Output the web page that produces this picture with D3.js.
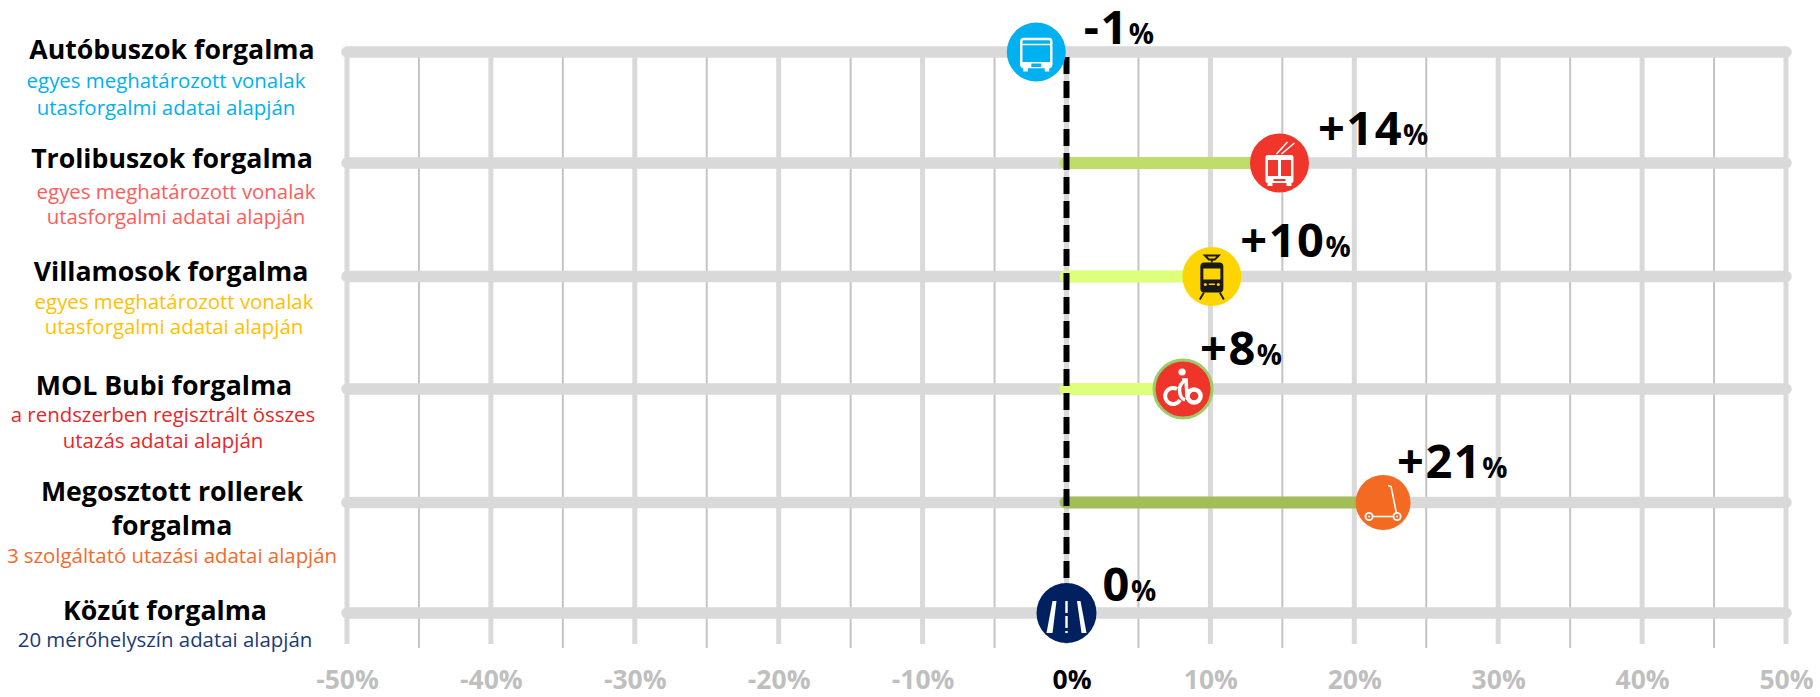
<!DOCTYPE html>
<html>
<head>
<meta charset="utf-8">
<script src="https://cdn.jsdelivr.net/npm/d3@7/dist/d3.min.js"></script>
<style>
  html, body { margin: 0; padding: 0; background: white; }
  svg { display: block; }
  text { font-family: "Open Sans", "Noto Sans", sans-serif; }
</style>
</head>
<body>
<main></main>
<script>
/*** The data ***/

const categories = ['busz', 'troli', 'villamos', 'bubi', 'roller', 'kozut']
const markerValues = [-2.1, 14.8, 10.1, 8.1, 22, 0] // where the icon sits on the axis
const valueLabels = ['-1', '+14', '+10', '+8', '+21', '0']
const ticks = [-50, -40, -30, -20, -10, 0, 10, 20, 30, 40, 50]
const minorTicks = [-45, -35, -25, -15, -5, 5, 15, 25, 35, 45]

const titles = [
    ['Autóbuszok forgalma'],
    ['Trolibuszok forgalma'],
    ['Villamosok forgalma'],
    ['MOL Bubi forgalma'],
    ['Megosztott rollerek', 'forgalma'],
    ['Közút forgalma']
]
const subtitles = [
    ['egyes meghatározott vonalak', 'utasforgalmi adatai alapján'],
    ['egyes meghatározott vonalak', 'utasforgalmi adatai alapján'],
    ['egyes meghatározott vonalak', 'utasforgalmi adatai alapján'],
    ['a rendszerben regisztrált összes', 'utazás adatai alapján'],
    ['3 szolgáltató utazási adatai alapján'],
    ['20 mérőhelyszín adatai alapján']
]

/*** Layout ***/

const svgWidth = 1820
const svgHeight = 697

const gridBottom = 644
const zeroX = 1066.5
const perPercent = 14.39

const rowY = [52, 163, 276.5, 389, 502.5, 613]

const markerColors = ['#00B0F0', '#F0352B', '#FFD500', '#EF3529', '#F56A22', '#002060']
const barColors = [null, '#BEDD6A', '#DDFF7A', '#DDFF7A', '#A3BD58', null]
const markerRadius = [29.5, 29.5, 29.5, 29, 27.5, 30]
const subColors = ['#00B0F0', '#FF5B5B', '#FFC000', '#E8262A', '#F4692B', '#1B3A75']

// label anchors, relative to the marker
const labelDx = [47.5, 38.5, 28.5, 17, 14, 36]
const labelDy = [-8, -18, -20, -24, -25, -12]

const titleCenter = [172, 172, 171, 164, 172, 165]
const subCenter = [166, 176, 174, 163, 172, 165]
const titleBase = [[59], [168], [281], [395], [501, 535], [620]]
const subBase = [[88, 115], [199, 224], [309, 334], [422, 448], [563], [647]]

const titleSize = 26.7
const subSize = 20.4

let svg = d3.select('main')
    .append('svg')
    .attr('width', svgWidth)
    .attr('height', svgHeight)
    .style('background-color', 'white')

/* Scales */

let xScale = d3.scaleLinear()
    .domain([-50, 50])
    .range([zeroX - 50 * perPercent, zeroX + 50 * perPercent])

let yScale = d3.scaleOrdinal()
    .domain(categories)
    .range(rowY)

/* Grid */

let grid = svg.append('g')

grid.selectAll('.minor')
    .data(minorTicks)
    .enter()
    .append('line')
    .attr('class', 'minor')
    .attr('x1', d => xScale(d))
    .attr('x2', d => xScale(d))
    .attr('y1', rowY[0])
    .attr('y2', gridBottom + 4)
    .attr('stroke', '#C4C4C4')
    .attr('stroke-width', 2)

grid.selectAll('.major')
    .data(ticks)
    .enter()
    .append('line')
    .attr('class', 'major')
    .attr('x1', d => xScale(d))
    .attr('x2', d => xScale(d))
    .attr('y1', rowY[0])
    .attr('y2', gridBottom)
    .attr('stroke', '#D9D9D9')
    .attr('stroke-width', 5)

grid.selectAll('.row')
    .data(categories)
    .enter()
    .append('line')
    .attr('class', 'row')
    .attr('x1', xScale(-50))
    .attr('x2', xScale(50))
    .attr('y1', d => yScale(d))
    .attr('y2', d => yScale(d))
    .attr('stroke', '#D9D9D9')
    .attr('stroke-width', 11.5)
    .attr('stroke-linecap', 'round')

/* Bars from zero up to the marker */

let bars = categories.map((c, i) => ({c, v: markerValues[i], color: barColors[i]})).filter(d => d.color)

svg.selectAll('.bar')
    .data(bars)
    .enter()
    .append('line')
    .attr('class', 'bar')
    .attr('x1', xScale(0) - 1)
    .attr('x2', d => xScale(d.v))
    .attr('y1', d => yScale(d.c))
    .attr('y2', d => yScale(d.c))
    .attr('stroke', d => d.color)
    .attr('stroke-width', 12)
    .attr('stroke-linecap', 'round')

/* Dashed zero line */

svg.append('line')
    .attr('x1', xScale(0))
    .attr('x2', xScale(0))
    .attr('y1', rowY[0] + 5)
    .attr('y2', rowY[5] - 35)
    .attr('stroke', 'black')
    .attr('stroke-width', 6)
    .attr('stroke-dasharray', '17 7')

/* Axis labels */

let bottomAxis = d3.axisBottom(xScale)
    .tickValues(ticks)
    .tickSize(0)
    .tickFormat(d => d + '%')

let xAxis = svg.append('g')
    .attr('transform', `translate(0, ${gridBottom + 15})`)
    .call(bottomAxis)

xAxis.select('path').remove()

xAxis.selectAll('text')
    .attr('dy', 0)
    .attr('y', 30)
    .attr('fill', d => d === 0 ? 'black' : '#BFBFBF')
    .attr('dx', d => d === 0 ? 5 : 0)
    .style('font-family', '"Open Sans", sans-serif')
    .style('font-weight', 700)
    .style('font-size', '26.5px')

/* Left hand texts */

categories.forEach((c, i) => {
    titles[i].forEach((line, j) => {
        svg.append('text')
            .attr('x', titleCenter[i])
            .attr('y', titleBase[i][j])
            .attr('text-anchor', 'middle')
            .style('font-size', titleSize + 'px')
            .style('font-weight', 700)
            .text(line)
    })
    subtitles[i].forEach((line, j) => {
        svg.append('text')
            .attr('x', subCenter[i])
            .attr('y', subBase[i][j])
            .attr('text-anchor', 'middle')
            .attr('fill', subColors[i])
            .style('font-size', subSize + 'px')
            .text(line)
    })
})

/* Value labels */

categories.forEach((c, i) => {
    let t = svg.append('text')
        .attr('x', xScale(markerValues[i]) + labelDx[i])
        .attr('y', yScale(c) + labelDy[i])
        .style('font-weight', 700)
    t.append('tspan').style('font-size', '47px').style('letter-spacing', '1.5px').text(valueLabels[i])
    t.append('tspan').style('font-size', '28px').text('%')
})

/* Markers, icons are drawn around the marker centre */

const icons = {
    busz(g) {
        g.append('rect').attr('x', -15).attr('y', -13).attr('width', 30).attr('height', 28).attr('rx', 2.5)
            .attr('fill', 'none').attr('stroke', 'white').attr('stroke-width', 2.4)
        g.append('line').attr('x1', -15).attr('x2', 15).attr('y1', -7.5).attr('y2', -7.5)
            .attr('stroke', 'white').attr('stroke-width', 1.5)
        g.append('rect').attr('x', -15).attr('y', 10).attr('width', 30).attr('height', 5).attr('fill', 'white')
        g.append('rect').attr('x', -5).attr('y', 11.5).attr('width', 10).attr('height', 3.5).attr('fill', '#00B0F0')
        g.append('rect').attr('x', -13).attr('y', 15).attr('width', 4.5).attr('height', 4.5).attr('fill', 'white')
        g.append('rect').attr('x', 8.5).attr('y', 15).attr('width', 4.5).attr('height', 4.5).attr('fill', 'white')
    },
    troli(g) {
        g.append('rect').attr('x', -14).attr('y', -8).attr('width', 28).attr('height', 28).attr('rx', 2).attr('fill', 'white')
        g.append('rect').attr('x', -11.5).attr('y', -3).attr('width', 10).attr('height', 16).attr('fill', '#F0352B')
        g.append('rect').attr('x', 1.5).attr('y', -3).attr('width', 10).attr('height', 16).attr('fill', '#F0352B')
        g.append('rect').attr('x', -6).attr('y', 16).attr('width', 12).attr('height', 2).attr('fill', '#F0352B')
        g.append('rect').attr('x', -12).attr('y', 20).attr('width', 5).attr('height', 3).attr('fill', 'white')
        g.append('rect').attr('x', 7).attr('y', 20).attr('width', 5).attr('height', 3).attr('fill', 'white')
        g.append('path').attr('d', 'M-3,-9L8,-21M2,-9L15,-20').attr('stroke', 'white').attr('stroke-width', 1.5).attr('fill', 'none')
    },
    villamos(g) {
        g.append('rect').attr('x', -11.5).attr('y', -14).attr('width', 23).attr('height', 30).attr('rx', 4).attr('fill', '#1A1A1A')
        g.append('rect').attr('x', -8.5).attr('y', -8).attr('width', 17).attr('height', 11).attr('fill', '#FFD500')
        g.append('circle').attr('cx', -6.5).attr('cy', 8).attr('r', 1.5).attr('fill', '#FFD500')
        g.append('circle').attr('cx', 6.5).attr('cy', 8).attr('r', 1.5).attr('fill', '#FFD500')
        g.append('rect').attr('x', -3).attr('y', 7).attr('width', 6).attr('height', 1.5).attr('fill', '#FFD500')
        g.append('path').attr('d', 'M-7,-21L7,-21L3,-17L-3,-17ZM0,-17L0,-14M-8,16L-12,23M8,16L12,23')
            .attr('stroke', '#1A1A1A').attr('stroke-width', 1.9).attr('fill', 'none')
    },
    bubi(g) {
        g.append('circle').attr('cx', -1).attr('cy', -17).attr('r', 3.6).attr('fill', 'white')
        g.append('path').attr('d', 'M-6,0 A8,8 0 1 0 -3,11')
            .attr('stroke', 'white').attr('stroke-width', 4).attr('fill', 'none')
        g.append('path').attr('d', 'M2,-8 A8,10 0 0 0 2,11')
            .attr('stroke', 'white').attr('stroke-width', 3.5).attr('fill', 'none')
        g.append('path').attr('d', 'M-1,-9 L3,-9 L4,8')
            .attr('stroke', 'white').attr('stroke-width', 3.5).attr('fill', 'none')
        g.append('circle').attr('cx', 11).attr('cy', 7).attr('r', 6.5)
            .attr('fill', 'none').attr('stroke', 'white').attr('stroke-width', 4.5)
    },
    roller(g) {
        g.append('path').attr('d', 'M5,-17 L8,-16 L14,14 M-14,14 L14,14')
            .attr('stroke', 'white').attr('stroke-width', 1.6).attr('fill', 'none')
        ;[-14, 14].forEach(cx => {
            g.append('circle').attr('cx', cx).attr('cy', 14).attr('r', 3.6)
                .attr('fill', '#F56A22').attr('stroke', 'white').attr('stroke-width', 1.8)
            g.append('circle').attr('cx', cx).attr('cy', 14).attr('r', 1).attr('fill', 'white')
        })
    },
    kozut(g) {
        g.append('path').attr('d', 'M-14,-12 L-10,-12 L-14,20 L-20,20 Z M10.5,-12 L14,-12 L20,20 L15,20 Z').attr('fill', 'white')
        g.append('line').attr('x1', 0).attr('x2', 0).attr('y1', -12).attr('y2', 20)
            .attr('stroke', 'white').attr('stroke-width', 2.4).attr('stroke-dasharray', '12 3')
    }
}

let markers = svg.selectAll('.marker')
    .data(categories)
    .enter()
    .append('g')
    .attr('class', 'marker')
    .attr('transform', (d, i) => `translate(${xScale(markerValues[i])}, ${yScale(d)})`)

markers.append('circle')
    .attr('r', (d, i) => markerRadius[i])
    .attr('fill', (d, i) => markerColors[i])
    .attr('stroke', d => d === 'bubi' ? '#9BCB6A' : 'none')
    .attr('stroke-width', 3)

markers.each(function (d) {
    icons[d](d3.select(this))
})
</script>
</body>
</html>
